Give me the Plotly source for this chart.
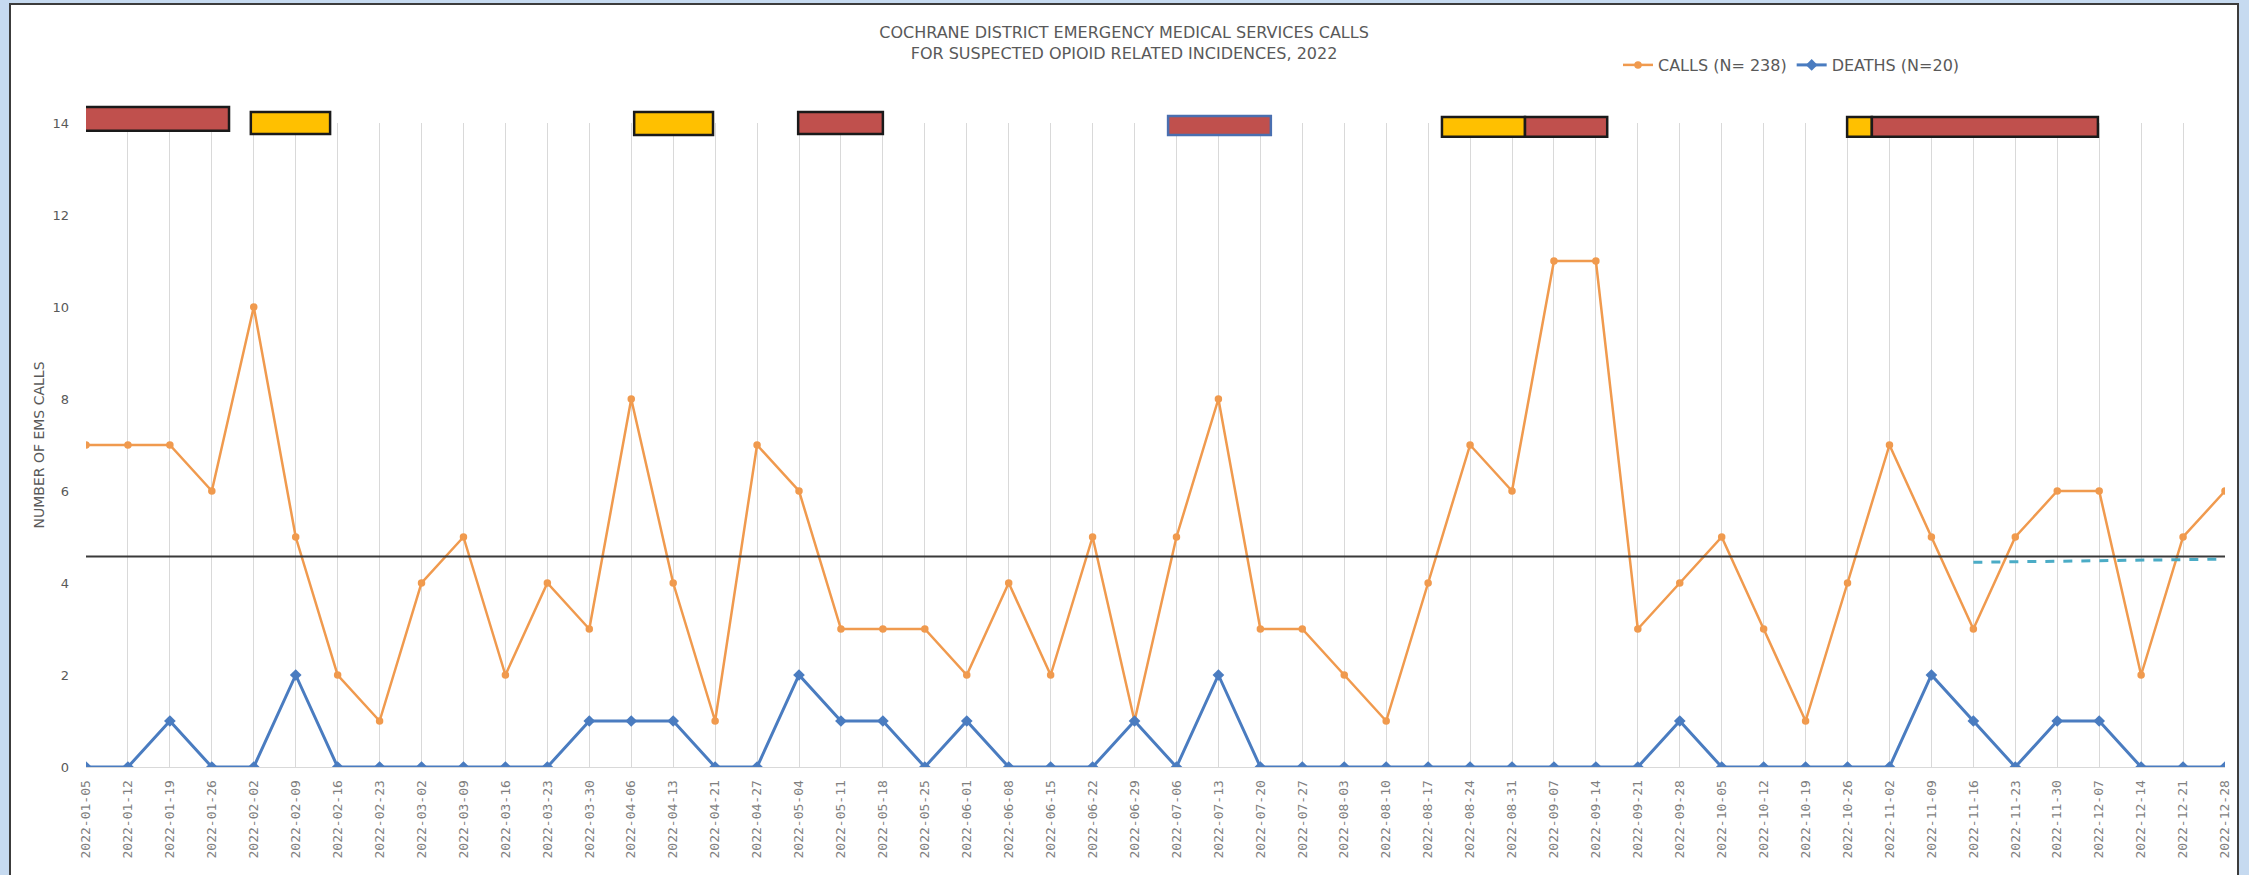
import plotly.graph_objects as go

# ---------------- data ----------------
weeks = [
    "2022-01-05", "2022-01-12", "2022-01-19", "2022-01-26", "2022-02-02", "2022-02-09",
    "2022-02-16", "2022-02-23", "2022-03-02", "2022-03-09", "2022-03-16", "2022-03-23",
    "2022-03-30", "2022-04-06", "2022-04-13", "2022-04-21", "2022-04-27", "2022-05-04",
    "2022-05-11", "2022-05-18", "2022-05-25", "2022-06-01", "2022-06-08", "2022-06-15",
    "2022-06-22", "2022-06-29", "2022-07-06", "2022-07-13", "2022-07-20", "2022-07-27",
    "2022-08-03", "2022-08-10", "2022-08-17", "2022-08-24", "2022-08-31", "2022-09-07",
    "2022-09-14", "2022-09-21", "2022-09-28", "2022-10-05", "2022-10-12", "2022-10-19",
    "2022-10-26", "2022-11-02", "2022-11-09", "2022-11-16", "2022-11-23", "2022-11-30",
    "2022-12-07", "2022-12-14", "2022-12-21", "2022-12-28",
]
calls = [7, 7, 7, 6, 10, 5, 2, 1, 4, 5, 2, 4, 3, 8, 4, 1, 7, 6, 3, 3, 3, 2, 4, 2, 5, 1,
         5, 8, 3, 3, 2, 1, 4, 7, 6, 11, 11, 3, 4, 5, 3, 1, 4, 7, 5, 3, 5, 6, 6, 2, 5, 6]
deaths = [0, 0, 1, 0, 0, 2, 0, 0, 0, 0, 0, 0, 1, 1, 1, 0, 0, 2, 1, 1, 0, 1, 0, 0, 0, 1,
          0, 2, 0, 0, 0, 0, 0, 0, 0, 0, 0, 0, 1, 0, 0, 0, 0, 0, 2, 1, 0, 1, 1, 0, 0, 0]

# short dashed trend segment at the end of the year
trend_weeks = ["2022-11-16", "2022-12-28"]
trend_values = [4.45, 4.52]

# alert flag bars drawn across the top (category index span, value span)
flag_from = [-0.1, 3.93, 13.07, 16.98, 25.8, 32.33, 34.31, 41.99, 42.58]
flag_to = [3.41, 5.82, 14.95, 19.0, 28.25, 34.31, 36.27, 42.58, 47.97]
flag_low = [13.83, 13.76, 13.74, 13.76, 13.74, 13.70, 13.70, 13.70, 13.70]
flag_high = [14.35, 14.24, 14.24, 14.24, 14.15, 14.13, 14.13, 14.13, 14.13]
flag_kind = ["red", "yellow", "yellow", "red", "red_blue", "yellow", "red", "yellow", "red"]

y_ticks = [0, 2, 4, 6, 8, 10, 12, 14]
Y_MAX = 14

# ---------------- layout geometry ----------------
W, H = 2249, 875
ML, MR, MT, MB = 86, 24, 123, 108
PW, PH = W - ML - MR, H - MT - MB


def px_x(px):
    return (px - ML) / PW


def px_y(py):
    return (H - MB - py) / PH


ORANGE = "#F09A4E"
BLUE = "#4A7CC0"
GRAY_TXT = "#595959"

fig = go.Figure()

fig.add_trace(go.Scatter(
    x=weeks, y=calls, mode="lines+markers", name=f"CALLS (N= {sum(calls)})",
    line=dict(color=ORANGE, width=2.5),
    marker=dict(symbol="circle", size=7.5, color=ORANGE)))

fig.add_trace(go.Scatter(
    x=weeks, y=deaths, mode="lines+markers", name=f"DEATHS (N={sum(deaths)})",
    line=dict(color=BLUE, width=3),
    marker=dict(symbol="diamond", size=9, color=BLUE)))

mean_calls = sum(calls) / len(calls)
fig.add_trace(go.Scatter(
    x=[weeks[0], weeks[-1]], y=[mean_calls, mean_calls], mode="lines",
    line=dict(color="#3A3A3A", width=2), showlegend=False, hoverinfo="skip"))

fig.add_trace(go.Scatter(
    x=trend_weeks, y=trend_values, mode="lines",
    line=dict(color="#4BACC6", width=3, dash="dash"), showlegend=False, hoverinfo="skip"))

shapes = [
    dict(type="rect", xref="paper", yref="paper", layer="below",
         x0=px_x(10), x1=px_x(2238), y0=px_y(4), y1=px_y(H + 10),
         fillcolor="white", line=dict(color="#3C3C3C", width=2)),
]
fills = {"red": "#C0504D", "yellow": "#FFC000", "red_blue": "#C0504D"}
lines = {"red": "#1A1A1A", "yellow": "#1A1A1A", "red_blue": "#4A6FB0"}
for x0, x1, lo, hi, kind in zip(flag_from, flag_to, flag_low, flag_high, flag_kind):
    shapes.append(dict(
        type="rect", xref="x", yref="paper", layer="above",
        x0=x0, x1=x1, y0=lo / Y_MAX, y1=hi / Y_MAX,
        fillcolor=fills[kind], line=dict(color=lines[kind], width=2.5)))

fig.update_layout(
    width=W, height=H,
    margin=dict(l=ML, r=MR, t=MT, b=MB),
    paper_bgcolor="#C6DAF0",
    plot_bgcolor="rgba(0,0,0,0)",
    font=dict(family="DejaVu Sans", color=GRAY_TXT),
    title=dict(
        text="COCHRANE DISTRICT EMERGENCY MEDICAL SERVICES CALLS<br>FOR SUSPECTED OPIOID RELATED INCIDENCES, 2022",
        x=0.4998, xanchor="center", y=1 - 38 / H, yanchor="middle",
        font=dict(family="DejaVu Sans", size=16, color=GRAY_TXT)),
    legend=dict(
        orientation="h", x=px_x(1618), xanchor="left", y=px_y(65), yanchor="middle",
        bgcolor="rgba(0,0,0,0)", font=dict(family="DejaVu Sans", size=16, color=GRAY_TXT),
        itemwidth=30, tracegroupgap=0),
    shapes=shapes,
    showlegend=True,
)

fig.update_xaxes(
    type="category", categoryorder="array", categoryarray=weeks,
    range=[0, len(weeks) - 1],
    tickmode="linear", tick0=0, dtick=1,
    tickangle=-90, ticks="", ticklabelstandoff=7,
    tickfont=dict(family="DejaVu Sans Mono", size=13, color="#7F7F7F"),
    showgrid=True, gridcolor="#D9D9D9", gridwidth=1,
    showline=True, linecolor="#D9D9D9", linewidth=1,
    zeroline=False,
)
fig.update_yaxes(
    range=[0, Y_MAX], tickvals=y_ticks, ticks="", ticklabelstandoff=16,
    tickfont=dict(family="DejaVu Sans", size=13, color=GRAY_TXT),
    showgrid=False, zeroline=False, showline=False,
    title=dict(text="NUMBER OF EMS CALLS", standoff=4,
               font=dict(family="DejaVu Sans", size=14, color=GRAY_TXT)),
)

fig.write_html("out.html")
